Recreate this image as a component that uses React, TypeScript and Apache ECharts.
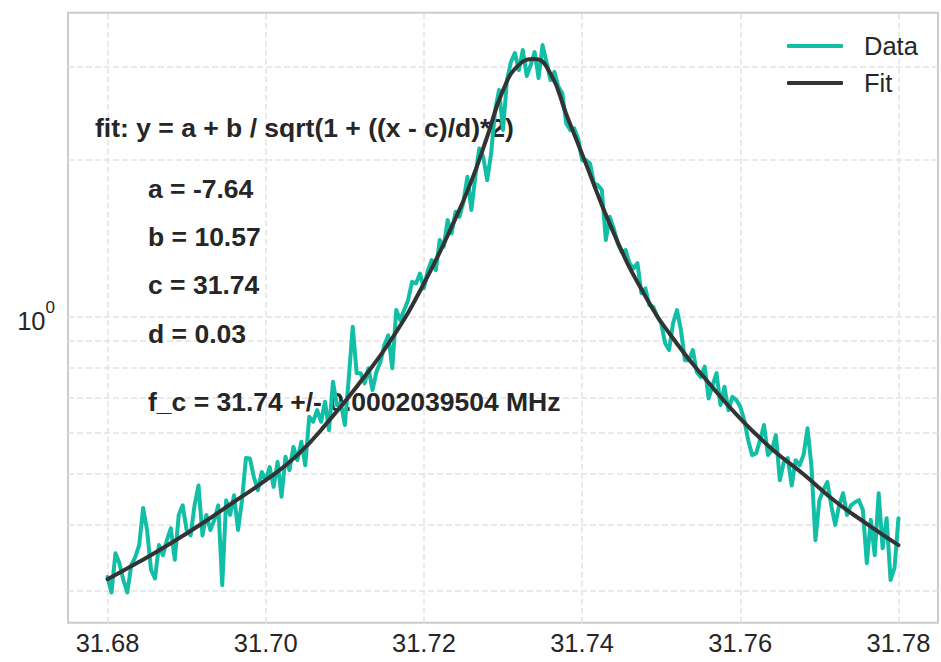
import React, { useEffect, useRef } from "react";
import * as echarts from "echarts";

const FONT = '"Liberation Sans", Arial, Helvetica, sans-serif';

// measured data (teal), sampled every X_STEP from X_START
const X_START = 31.68;
const X_STEP = 0.0005;
const DATA_Y = [
  0.318, 0.297, 0.353, 0.338, 0.314, 0.297, 0.335, 0.347, 0.366, 0.431,
  0.391, 0.328, 0.316, 0.366, 0.35, 0.374, 0.394, 0.343, 0.418, 0.436,
  0.391, 0.382, 0.436, 0.476, 0.382, 0.418, 0.391, 0.409, 0.436, 0.307,
  0.446, 0.418, 0.456, 0.391, 0.446, 0.537, 0.536, 0.494, 0.466, 0.505,
  0.487, 0.516, 0.473, 0.528, 0.453, 0.54, 0.509, 0.564, 0.532, 0.577,
  0.52, 0.644, 0.63, 0.663, 0.63, 0.688, 0.607, 0.751, 0.678, 0.683,
  0.621, 0.763, 0.957, 0.78, 0.78, 0.746, 0.797, 0.724, 0.785, 0.82,
  0.883, 0.922, 0.797, 1.03, 0.986, 1.03, 1.076, 1.166, 1.158, 1.21,
  1.133, 1.228, 1.284, 1.228, 1.402, 1.361, 1.531, 1.444, 1.588, 1.553,
  1.66, 1.852, 1.6, 1.852, 2.099, 2.022, 1.825, 2.053, 2.484, 2.713,
  2.275, 2.835, 3.069, 3.193, 2.963, 3.236, 2.886, 3.028, 3.207, 2.86,
  3.307, 3.069, 2.835, 2.941, 2.753, 2.674, 2.343, 2.275, 2.292, 2.193,
  1.993, 1.993, 1.964, 1.799, 1.785, 1.747, 1.402, 1.553, 1.476, 1.382,
  1.331, 1.341, 1.266, 1.237, 1.266, 1.109, 1.133, 1.053, 1.045, 1.0,
  0.972, 0.89, 0.864, 0.972, 1.03, 0.943, 0.826, 0.826, 0.864, 0.784,
  0.767, 0.803, 0.698, 0.74, 0.78, 0.678, 0.735, 0.663, 0.703, 0.693,
  0.673, 0.635, 0.581, 0.544, 0.548, 0.581, 0.621, 0.544, 0.556, 0.594,
  0.487, 0.527, 0.537, 0.476, 0.532, 0.52, 0.544, 0.612, 0.518, 0.374,
  0.446, 0.466, 0.483, 0.436, 0.4, 0.436, 0.46, 0.418, 0.436, 0.442,
  0.446, 0.427, 0.338, 0.409, 0.35, 0.46, 0.361, 0.412, 0.314, 0.331,
  0.412,
];

// fitted curve (dark)
const FIT_X = [
  31.68, 31.684, 31.688, 31.692, 31.696, 31.7, 31.704, 31.708, 31.712, 31.716,
  31.72, 31.724, 31.726, 31.728, 31.73, 31.732, 31.734, 31.736, 31.738, 31.74,
  31.744, 31.748, 31.752, 31.756, 31.76, 31.764, 31.768, 31.772, 31.776, 31.78,
];
const FIT_Y = [
  0.315, 0.34, 0.369, 0.403, 0.443, 0.487, 0.544, 0.633, 0.752, 0.911,
  1.158, 1.542, 1.817, 2.209, 2.71, 3.032, 3.11, 2.917, 2.44, 2.047,
  1.445, 1.095, 0.888, 0.748, 0.639, 0.559, 0.5, 0.444, 0.402, 0.366,
];

const X_TICKS = [31.68, 31.7, 31.72, 31.74, 31.76, 31.78];
const Y_GRID = [0.3, 0.4, 0.5, 0.6, 0.7, 0.8, 0.9, 1, 2, 3];

const ANNOTATIONS = [
  "fit: y = a + b / sqrt(1 + ((x - c)/d)*2)",
  "a = -7.64",
  "b = 10.57",
  "c = 31.74",
  "d = 0.03",
  "f_c = 31.74 +/- 0.0002039504 MHz",
];
const LEGEND_NAMES = ["Data", "Fit"];

const TEAL = "#12bfa6";
const DARK = "#333333";
const TEXT = "#262626";

export default function App() {
  const ref = useRef<HTMLDivElement>(null);

  useEffect(() => {
    if (!ref.current) return;
    const chart = echarts.init(ref.current, null, { renderer: "svg" });

    const data = DATA_Y.map((y, i) => [+(X_START + i * X_STEP).toFixed(4), y]);
    const fit = FIT_X.map((x, i) => [x, FIT_Y[i]]);

    const annPos = [
      [95, 128],
      [148, 189],
      [148, 236.5],
      [148, 285],
      [148, 334],
      [148, 401.5],
    ];

    chart.setOption({
      animation: false,
      grid: {
        left: 68,
        right: -3,
        top: 12.7,
        bottom: 39.3,
        show: true,
        borderColor: "#cccccc",
        borderWidth: 2,
        backgroundColor: "transparent",
      },
      legend: {
        data: LEGEND_NAMES,
        orient: "vertical",
        left: 787,
        top: 31,
        padding: 0,
        itemWidth: 56,
        itemHeight: 4,
        icon: "roundRect",
        itemGap: 7,
        selectedMode: false,
        textStyle: {
          fontSize: 25.5,
          fontFamily: FONT,
          color: TEXT,
          lineHeight: 30,
          padding: [0, 0, 0, 16],
        },
      },
      xAxis: {
        type: "value",
        min: 31.675,
        max: 31.785,
        interval: 0.005,
        axisLine: { show: false },
        axisTick: { show: false },
        splitLine: { show: false },
        axisLabel: {
          margin: 7,
          fontSize: 25.5,
          fontFamily: FONT,
          color: TEXT,
          formatter: (v: number) =>
            Math.abs(v * 50 - Math.round(v * 50)) < 1e-6 ? v.toFixed(2) : "",
        },
      },
      yAxis: {
        type: "log",
        logBase: 10,
        min: 0.2601,
        max: 3.814,
        axisLine: { show: false },
        axisTick: { show: false },
        splitLine: { show: false },
        axisLabel: {
          margin: 13,
          formatter: (v: number) => (Math.abs(v - 1) < 1e-9 ? "{b|10}{s|0}" : ""),
          rich: {
            b: {
              fontSize: 25.5,
              fontFamily: FONT,
              color: TEXT,
              lineHeight: 36,
              padding: [8, 0, 0, 0],
            },
            s: {
              fontSize: 17,
              fontFamily: FONT,
              color: TEXT,
              verticalAlign: "top",
              lineHeight: 20,
            },
          },
        },
      },
      graphic: {
        elements: ANNOTATIONS.map((t, i) => ({
          type: "text",
          x: annPos[i][0],
          y: annPos[i][1],
          z: 2,
          silent: true,
          style: {
            text: t,
            fill: TEXT,
            font: `bold 26.5px ${FONT}`,
            align: "left",
            verticalAlign: "middle",
          },
        })),
      },
      series: [
        {
          name: "Data",
          type: "line",
          data,
          symbol: "none",
          showSymbol: false,
          z: 3,
          lineStyle: { color: TEAL, width: 4, join: "round", cap: "round" },
          itemStyle: { color: TEAL },
          emphasis: { disabled: true },
          markLine: {
            silent: true,
            z: 1,
            symbol: ["none", "none"],
            label: { show: false },
            emphasis: { disabled: true },
            lineStyle: { color: "#e4e4e4", width: 1.5, type: [6, 3] },
            data: [
              ...X_TICKS.map((x) => ({ xAxis: x })),
              ...Y_GRID.map((y) => ({ yAxis: y })),
            ],
          },
        },
        {
          name: "Fit",
          type: "line",
          data: fit,
          smooth: true,
          symbol: "none",
          showSymbol: false,
          z: 4,
          lineStyle: { color: DARK, width: 4, cap: "round" },
          itemStyle: { color: DARK },
          emphasis: { disabled: true },
        },
      ],
    });

    return () => chart.dispose();
  }, []);

  return (
    <div
      ref={ref}
      style={{
        position: "fixed",
        left: 0,
        top: 0,
        width: 941,
        height: 662,
        background: "#ffffff",
      }}
    />
  );
}
